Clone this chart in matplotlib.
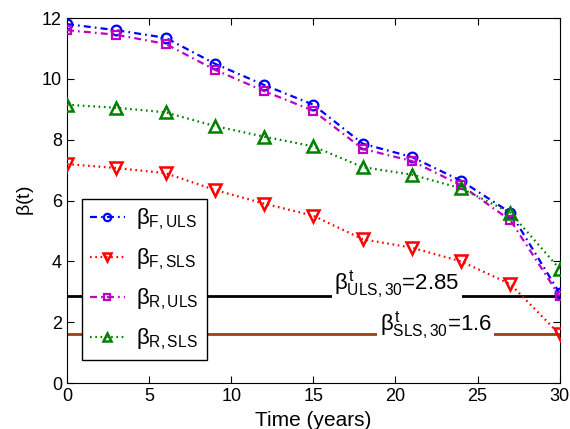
import numpy as np
import matplotlib
matplotlib.use("Agg")
import matplotlib.pyplot as plt

plt.rcParams['font.family'] = ['Liberation Sans', 'DejaVu Sans']
plt.rcParams['mathtext.fontset'] = 'custom'
plt.rcParams['mathtext.rm'] = 'Liberation Sans'
plt.rcParams['mathtext.it'] = 'Liberation Sans'
plt.rcParams['mathtext.bf'] = 'Liberation Sans:bold'
plt.rcParams['lines.scale_dashes'] = False

# reliability index over service life
t = [0, 3, 6, 9, 12, 15, 18, 21, 24, 27, 30]
beta_F_ULS = [11.8, 11.6, 11.35, 10.5, 9.8, 9.15, 7.87, 7.43, 6.65, 5.6, 2.95]
beta_F_SLS = [7.2, 7.07, 6.9, 6.35, 5.9, 5.5, 4.73, 4.45, 4.0, 3.25, 1.6]
beta_R_ULS = [11.6, 11.45, 11.15, 10.3, 9.6, 8.95, 7.7, 7.3, 6.5, 5.35, 2.85]
beta_R_SLS = [9.15, 9.05, 8.9, 8.45, 8.1, 7.78, 7.1, 6.85, 6.4, 5.6, 3.75]

# target values at 30 years
beta_t_ULS = 2.85
beta_t_SLS = 1.6

fig = plt.figure(figsize=(5.7, 4.29), dpi=100)
ax = fig.add_axes([0.1175, 0.107, 0.8645, 0.851])

ax.axhline(beta_t_ULS, color='black', lw=2, zorder=2)
ax.axhline(beta_t_SLS, color='#a04010', lw=2, zorder=2)

dashdot = (5, 3, 1.2, 3)
dotted = (1.2, 2.6)
ax.plot(t, beta_F_ULS, color='blue', dashes=dashdot, marker='o', lw=1.6, ms=7, mew=1.6,
        mfc='none', zorder=3, label=r'$\beta_{\mathrm{F,ULS}}$')
ax.plot(t, beta_F_SLS, color='red', dashes=dotted, marker='v', lw=1.6, ms=8, mew=1.8,
        mfc='none', zorder=3, label=r'$\beta_{\mathrm{F,SLS}}$')
ax.plot(t, beta_R_ULS, color='#c000c0', dashes=dashdot, marker='s', lw=1.6, ms=6, mew=1.6,
        mfc='none', zorder=3, label=r'$\beta_{\mathrm{R,ULS}}$')
ax.plot(t, beta_R_SLS, color='green', dashes=dotted, marker='^', lw=1.6, ms=8, mew=1.8,
        mfc='none', zorder=3, label=r'$\beta_{\mathrm{R,SLS}}$')

# target labels sit on the lines, white box cuts a gap
box = dict(facecolor='white', edgecolor='none', pad=2)
ax.text(20.1, beta_t_ULS + 0.22, r'$\beta^{t}_{\mathrm{ULS,30}}$=%.2f' % beta_t_ULS, fontsize=16,
        ha='center', va='baseline', bbox=box, zorder=2.5)
ax.text(22.45, beta_t_SLS + 0.13, r'$\beta^{t}_{\mathrm{SLS,30}}$=%.1f' % beta_t_SLS, fontsize=16,
        ha='center', va='baseline', bbox=box, zorder=2.5)

ax.set_xlim(0, 30)
ax.set_ylim(0, 12)
ax.set_xticks(range(0, 31, 5))
ax.set_yticks(range(0, 13, 2))
ax.tick_params(direction='in', top=True, right=True, labelsize=13, length=5)
ax.set_xlabel('Time (years)', fontsize=15, labelpad=4)
ax.set_ylabel(r'$\beta$(t)', fontsize=14)

leg = ax.legend(loc='lower left', bbox_to_anchor=(0.03, 0.063), fontsize=16,
                fancybox=False, framealpha=1, edgecolor='black', handlelength=1.6,
                handletextpad=0.5, borderaxespad=0, labelspacing=0.65,
                markerscale=0.75, borderpad=0.35)
leg.get_frame().set_linewidth(1)

fig.savefig('out.png', dpi=100)
